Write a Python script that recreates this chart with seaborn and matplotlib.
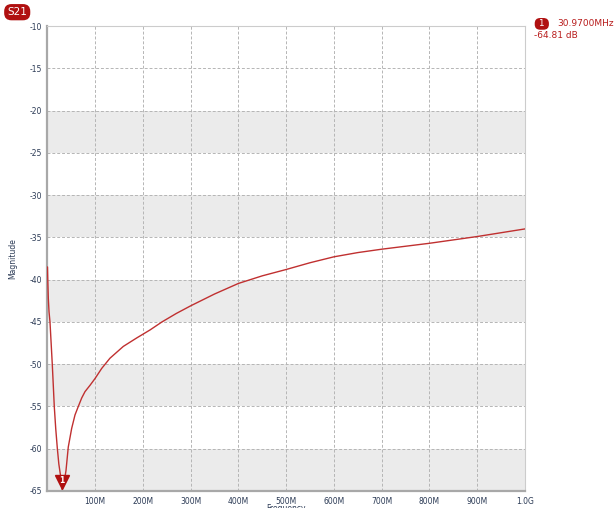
import matplotlib
matplotlib.use("Agg")
import matplotlib.pyplot as plt
import matplotlib.transforms as mtransforms
import seaborn as sns
import pandas as pd

# S21 sweep, frequency in MHz, magnitude in dB
freq_mhz = [0.3, 1.0, 2.0, 3.5, 5.5, 8, 10.3, 12.5, 14.5, 17.5, 20.8, 24,
            27.9, 30.97, 35, 39, 43.8, 50.9, 57.9, 64.8, 71.9, 78.8, 89.3,
            99.8, 113.8, 131, 159, 187, 215, 240, 270, 300, 350, 400, 450,
            500, 550, 600, 650, 700, 750, 800, 850, 900, 950, 1000]
mag_db = [-38.5, -40.2, -42.2, -43.8, -45.0, -47.6, -50.0, -52.6, -55.0,
          -57.6, -59.9, -61.8, -63.3, -64.81, -64.0, -62.6, -59.8, -57.6,
          -56.0, -55.0, -54.0, -53.25, -52.5, -51.7, -50.5, -49.3, -47.9,
          -46.9, -45.95, -45.0, -44.0, -43.1, -41.7, -40.45, -39.55, -38.8,
          -38.0, -37.3, -36.8, -36.4, -36.05, -35.7, -35.3, -34.9, -34.45, -34.0]

marker_freq = 30.97
marker_db = -64.81

x_ticks = [100, 200, 300, 400, 500, 600, 700, 800, 900, 1000]
x_labels = ["100M", "200M", "300M", "400M", "500M", "600M", "700M", "800M", "900M", "1.0G"]
y_ticks = [-65, -60, -55, -50, -45, -40, -35, -30, -25, -20, -15, -10]

df = pd.DataFrame({"freq": freq_mhz, "mag": mag_db})

sns.set_style("white")
plt.rcParams["font.family"] = ["DejaVu Sans"]

red = "#b81c1c"
tick_col = "#2b3a55"

fig = plt.figure(figsize=(6.15, 5.08), dpi=100)
ax = fig.add_axes([0.077, 0.0335, 0.7767, 0.9153])

# alternating grey bands
for lo in range(-65, -15, 10):
    ax.axhspan(lo, lo + 5, color="#ebebeb", zorder=0, lw=0)

sns.lineplot(data=df, x="freq", y="mag", color="#c03030", lw=1.0, ax=ax, zorder=3)

# marker 1, tip sits on the point
off = mtransforms.ScaledTranslation(0, 5 / 72, fig.dpi_scale_trans)
ax.plot([marker_freq], [marker_db], marker="v", ms=10, color="#b01010",
        transform=ax.transData + off, zorder=4, clip_on=False)
ax.text(marker_freq, marker_db, "1", color="white", fontsize=5.5, ha="center",
        va="center", transform=ax.transData + mtransforms.ScaledTranslation(0, 6.5 / 72, fig.dpi_scale_trans),
        zorder=5, fontweight="bold")

ax.set_xlim(0, 1000)
ax.set_ylim(-65, -10)
ax.set_xticks(x_ticks)
ax.set_xticklabels(x_labels)
ax.set_yticks(y_ticks)
ax.set_yticklabels([str(v) for v in y_ticks])
ax.tick_params(labelsize=5.5, colors=tick_col, length=2, width=0.6, pad=2)
ax.tick_params(axis="both", color="#999999")

ax.grid(True, color="#b5b5b5", ls=(0, (3, 2)), lw=0.7, zorder=1)
ax.set_axisbelow(True)

for s in ["left", "bottom"]:
    ax.spines[s].set_color("#a8a8a8")
    ax.spines[s].set_linewidth(1.6)
for s in ["top", "right"]:
    ax.spines[s].set_color("#cccccc")
    ax.spines[s].set_linewidth(0.8)

ax.set_xlabel("Frequency", fontsize=5.5, color=tick_col, labelpad=-1)
ax.set_ylabel("Magnitude", fontsize=5.5, color=tick_col, labelpad=9)

# trace badge
fig.text(0.028, 0.976, "S21", color="white", fontsize=7.5, ha="center", va="center",
         bbox=dict(boxstyle="round,pad=0.3,rounding_size=0.7", fc="#b01010", ec="none"))

# marker readout
fig.text(0.881, 0.953, " 1 ", color="white", fontsize=6.5, ha="center", va="center",
         bbox=dict(boxstyle="round,pad=0.15,rounding_size=0.6", fc="#b01010", ec="none"))
fig.text(0.906, 0.953, "30.9700MHz", color=red, fontsize=6.5, ha="left", va="center")
fig.text(0.868, 0.931, "-64.81 dB", color=red, fontsize=6.5, ha="left", va="center")

fig.savefig("out.png", dpi=100)
